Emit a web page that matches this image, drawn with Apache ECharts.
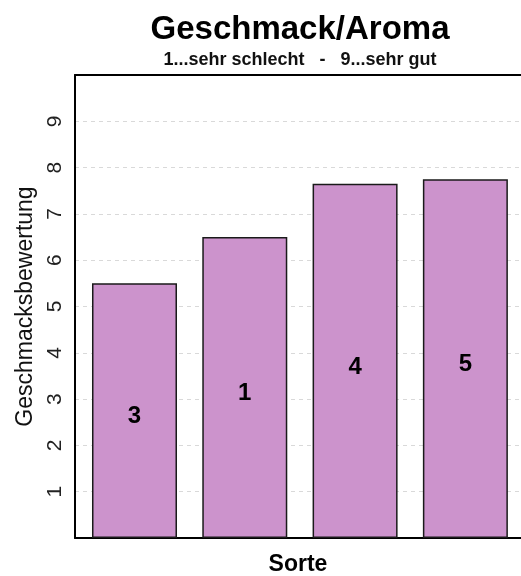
<!DOCTYPE html>
<html>
<head>
<meta charset="utf-8">
<script src="https://cdn.jsdelivr.net/npm/echarts@6/dist/echarts.min.js"></script>
<style>
html,body{margin:0;padding:0;background:#fff;}
#main{width:521px;height:576px;}
</style>
</head>
<body>
<div id="main"></div>
<script>
var titleText = 'Geschmack/Aroma';
var subtitleText = '1...sehr schlecht   -   9...sehr gut';
var xTitle = 'Sorte';
var yTitle = 'Geschmacksbewertung';
var sorten = ['3', '1', '4', '5'];
var bewertung = [5.5, 6.5, 7.65, 7.75];
var yTicks = [1, 2, 3, 4, 5, 6, 7, 8, 9];

var FONT = '"Liberation Sans", Arial, Helvetica, sans-serif';
var chart = echarts.init(document.getElementById('main'), null, {renderer: 'canvas'});

var seriesData = bewertung.map(function (v, i) { return [i + 1, v]; });
var boxLine = {show: true, lineStyle: {color: '#000', width: 2}};

chart.setOption({
  backgroundColor: '#ffffff',
  animation: false,
  title: [
    {text: titleText, left: 300, top: 13, textAlign: 'center', padding: 0,
     textStyle: {fontFamily: FONT, fontSize: 33, fontWeight: 'bold', color: '#000'}},
    {text: subtitleText, left: 300, top: 51, textAlign: 'center', padding: 0,
     textStyle: {fontFamily: FONT, fontSize: 18, fontWeight: 'bold', color: '#111'}}
  ],
  grid: {
    left: 75, top: 75, right: 0, bottom: 38,
    outerBoundsMode: 'none', containLabel: false,
    show: false
  },
  xAxis: [{
    type: 'value', min: 0.4606, max: 4.5043, position: 'bottom',
    name: xTitle, nameLocation: 'middle', nameGap: 15,
    nameTextStyle: {fontFamily: FONT, fontSize: 23, fontWeight: 'bold', color: '#000'},
    axisLine: Object.assign({onZero: false}, boxLine), axisTick: {show: false}, axisLabel: {show: false},
    splitLine: {show: false}
  }, {
    type: 'value', min: 0.4606, max: 4.5043, position: 'top',
    axisLine: Object.assign({onZero: false}, boxLine), axisTick: {show: false}, axisLabel: {show: false},
    splitLine: {show: false}
  }],
  yAxis: {
    type: 'value', min: 0, max: 10, interval: 1,
    name: yTitle, nameLocation: 'middle', nameGap: 36, nameRotate: 90,
    nameTextStyle: {fontFamily: FONT, fontSize: 23, color: '#111'},
    axisLine: boxLine, axisTick: {show: false},
    axisLabel: {
      rotate: 90, margin: 9, fontFamily: FONT, fontSize: 21, color: '#222',
      formatter: function (v) { return yTicks.indexOf(v) >= 0 ? String(v) : ''; }
    },
    splitLine: {show: true, lineStyle: {color: '#d9d9d9', type: [4, 4], width: 1}}
  },
  series: [{
    type: 'bar',
    xAxisIndex: 0,
    data: seriesData,
    barWidth: 85,
    itemStyle: {color: '#CC93CC', borderColor: '#1a1a1a', borderWidth: 1.5},
    label: {
      show: true, position: 'inside', offset: [0, 6],
      fontFamily: FONT, fontSize: 24, fontWeight: 'bold', color: '#000',
      formatter: function (p) { return sorten[p.dataIndex]; }
    }
  }]
});
</script>
</body>
</html>
